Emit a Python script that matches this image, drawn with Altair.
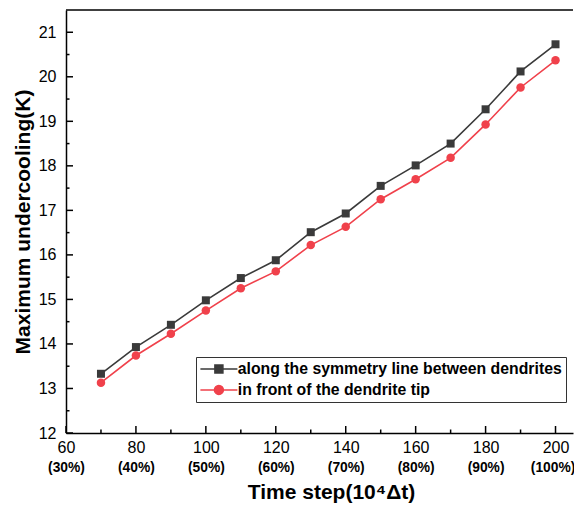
import altair as alt
import pandas as pd

# ---- data ----
steps = [70, 80, 90, 100, 110, 120, 130, 140, 150, 160, 170, 180, 190, 200]
symmetry_line = [13.33, 13.93, 14.43, 14.98, 15.48, 15.88, 16.51, 16.93, 17.55, 18.01, 18.50, 19.27, 20.12, 20.73]
dendrite_tip = [13.13, 13.74, 14.23, 14.75, 15.25, 15.63, 16.22, 16.63, 17.25, 17.70, 18.18, 18.93, 19.76, 20.37]
series_names = ["along the symmetry line between dendrites", "in front of the dendrite tip"]

x_tick_values = [60, 80, 100, 120, 140, 160, 180, 200]
x_pct_labels = ["(30%)", "(40%)", "(50%)", "(60%)", "(70%)", "(80%)", "(90%)", "(100%)"]
x_minor_values = [70, 90, 110, 130, 150, 170, 190]
y_tick_values = [12, 13, 14, 15, 16, 17, 18, 19, 20, 21]
y_minor_values = [12.5, 13.5, 14.5, 15.5, 16.5, 17.5, 18.5, 19.5, 20.5]

BLACK = "#3a3a3a"
RED = "#f0414b"
FONT = "Liberation Sans"
W, H = 507, 423

df = pd.DataFrame({"step": steps, "sym": symmetry_line, "tip": dendrite_tip})
xscale = alt.Scale(domain=[60, 205], nice=False, zero=False)
yscale = alt.Scale(domain=[12, 21.5], nice=False, zero=False)

pct_expr = "".join(f"datum.value=={v}?'{l}':" for v, l in zip(x_tick_values, x_pct_labels)) + "''"

axis_num = alt.Axis(values=x_tick_values, ticks=False, grid=False, title=None, orient="bottom",
                    labelFont=FONT, labelFontSize=16, labelColor="black", labelPadding=6,
                    labelFlush=False, labelOverlap=False,
                    domain=True, domainColor="black", domainWidth=1.5)
axis_pct = alt.Axis(values=x_tick_values, ticks=False, grid=False, orient="bottom", domain=False,
                    offset=27,
                    labelExpr=pct_expr, labelFont=FONT, labelFontSize=13.8, labelFontWeight="bold",
                    labelColor="black", labelPadding=0, labelFlush=False, labelOverlap=False,
                    labelOffset={"condition": {"test": f"datum.value == {x_tick_values[-1]}", "value": -3},
                                 "value": 0},
                    title="Time step(10⁴Δt)", titleFont=FONT, titleFontSize=21, titleFontWeight="bold",
                    titleColor="black", titlePadding=8, titleX=265)
axis_y = alt.Axis(values=y_tick_values, ticks=False, grid=False, orient="left",
                  labelFont=FONT, labelFontSize=16, labelColor="black", labelPadding=10,
                  labelFlush=False, labelOverlap=False,
                  domain=True, domainColor="black", domainWidth=1.5,
                  title="Maximum undercooling(K)", titleFont=FONT, titleFontSize=21,
                  titleFontWeight="bold", titleColor="black", titlePadding=5)

base = alt.Chart(df)

line_sym = base.mark_line(color=BLACK, strokeWidth=1.6).encode(
    x=alt.X("step:Q", scale=xscale, axis=axis_num),
    y=alt.Y("sym:Q", scale=yscale, axis=axis_y))
pts_sym = base.mark_point(shape="square", filled=True, size=64, color=BLACK, opacity=1).encode(
    x=alt.X("step:Q", scale=xscale, axis=None),
    y=alt.Y("sym:Q", scale=yscale, axis=None))
line_tip = base.mark_line(color=RED, strokeWidth=1.6).encode(
    x=alt.X("step:Q", scale=xscale, axis=axis_pct),
    y=alt.Y("tip:Q", scale=yscale, axis=None))
pts_tip = base.mark_point(shape="circle", filled=True, size=72, color=RED, opacity=1).encode(
    x=alt.X("step:Q", scale=xscale, axis=None),
    y=alt.Y("tip:Q", scale=yscale, axis=None))

# inward ticks
xt_major = alt.Chart(pd.DataFrame({"v": x_tick_values})).mark_rule(color="black", strokeWidth=1.5).encode(
    x=alt.X("v:Q", scale=xscale, axis=None), y=alt.value(H), y2=alt.value(H - 7))
xt_minor = alt.Chart(pd.DataFrame({"v": x_minor_values})).mark_rule(color="black", strokeWidth=1.5).encode(
    x=alt.X("v:Q", scale=xscale, axis=None), y=alt.value(H), y2=alt.value(H - 3.5))
yt_major = alt.Chart(pd.DataFrame({"v": y_tick_values})).mark_rule(color="black", strokeWidth=1.5).encode(
    y=alt.Y("v:Q", scale=yscale, axis=None), x=alt.value(0), x2=alt.value(7))
yt_minor = alt.Chart(pd.DataFrame({"v": y_minor_values})).mark_rule(color="black", strokeWidth=1.5).encode(
    y=alt.Y("v:Q", scale=yscale, axis=None), x=alt.value(0), x2=alt.value(3.5))
top_frame = alt.Chart(pd.DataFrame({"a": [0]})).mark_rule(color="black", strokeWidth=1.5).encode(
    x=alt.value(0), x2=alt.value(W), y=alt.value(0))

# legend (line + marker symbols)
sq_path = "M-3.7,0H3.7M-0.8,-0.8H0.8V0.8H-0.8Z"
ci_path = "M-3.7,0H3.7M0.9,0A0.9,0.9,0,1,1,-0.9,0A0.9,0.9,0,1,1,0.9,0Z"
leg = alt.Legend(title=None, orient="none", legendX=130, legendY=347,
                 labelFont=FONT, labelFontSize=15.8, labelFontWeight="bold", labelColor="black",
                 symbolSize=100, symbolStrokeWidth=1.5, symbolOffset=11, labelOffset=11,
                 strokeColor="#333333", fillColor="white", padding=4, rowPadding=4, labelLimit=500)
leg_layer = alt.Chart(pd.DataFrame({"s": series_names})).transform_filter("false").mark_point(
    filled=True, opacity=1).encode(
    x=alt.value(0), y=alt.value(0),
    fill=alt.Fill("s:N", scale=alt.Scale(domain=series_names, range=[BLACK, RED]), legend=leg),
    stroke=alt.Stroke("s:N", scale=alt.Scale(domain=series_names, range=[BLACK, RED]), legend=leg),
    shape=alt.Shape("s:N", scale=alt.Scale(domain=series_names, range=[sq_path, ci_path]), legend=leg))

chart = alt.layer(
    xt_major, xt_minor, yt_major, yt_minor, top_frame,
    line_sym, line_tip, pts_sym, pts_tip, leg_layer
).resolve_axis(x="independent", y="independent").properties(
    width=W, height=H,
    autosize=alt.AutoSizeParams(type="none"),
    padding={"left": 58, "top": 2, "right": 1, "bottom": 74},
    background="white",
).configure_view(stroke=None)

chart.save("out.html", embed_options={"renderer": "svg", "actions": False})
